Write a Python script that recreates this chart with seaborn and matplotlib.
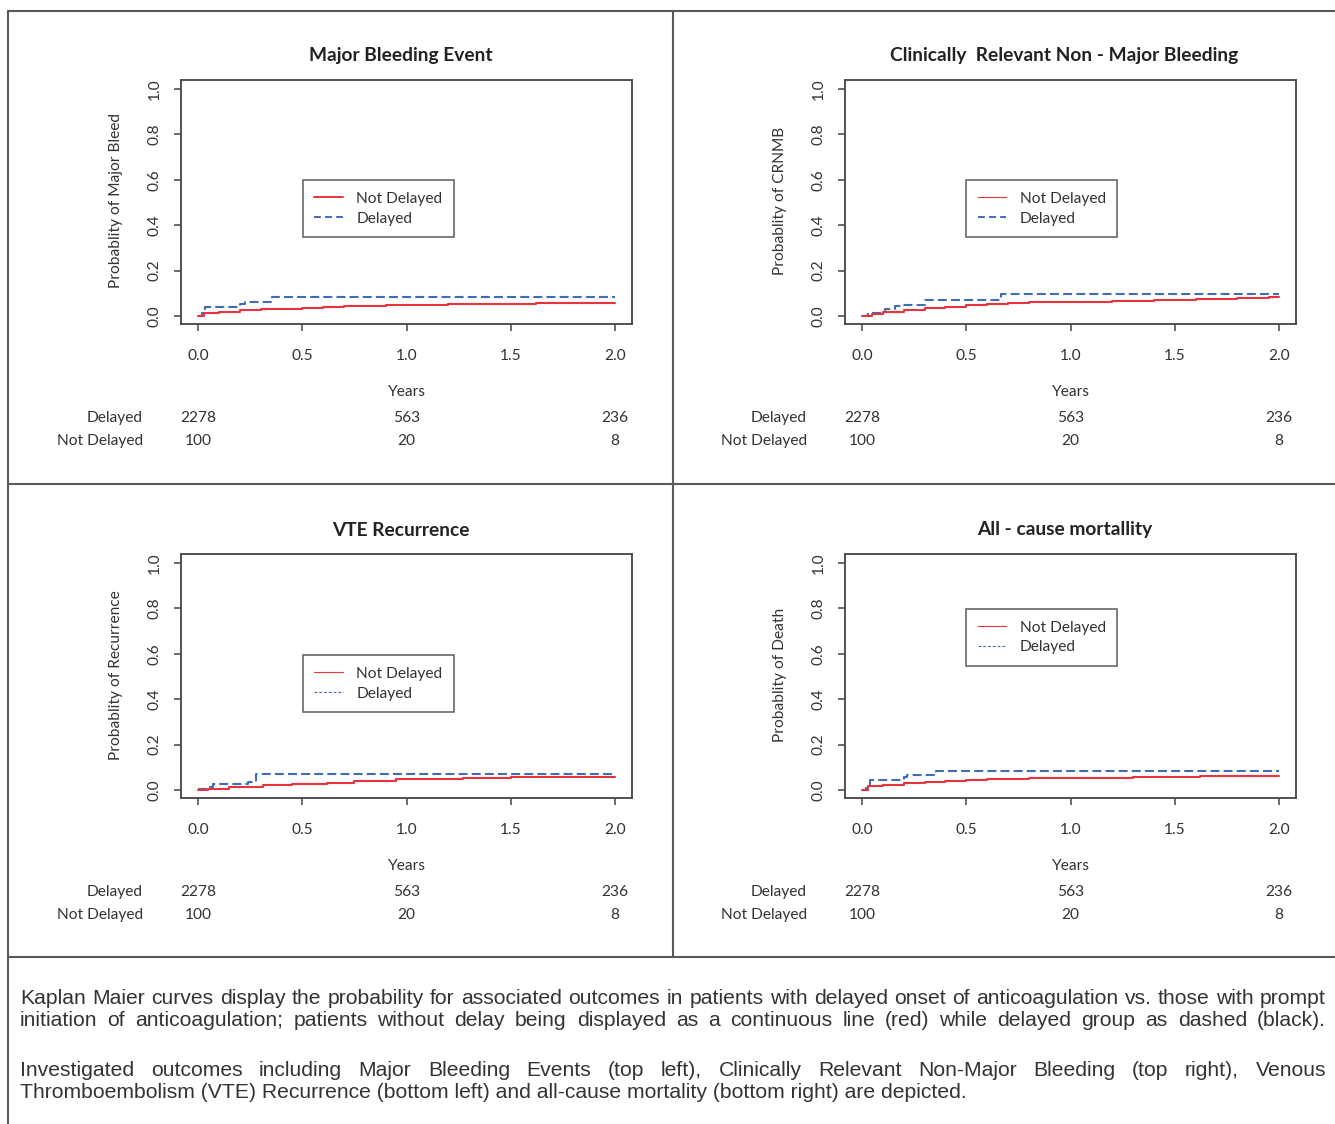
import numpy as np
import pandas as pd
import matplotlib
matplotlib.use("Agg")
import matplotlib.pyplot as plt
import matplotlib.transforms as mtransforms
from matplotlib.lines import Line2D
import seaborn as sns

# ---------------- data ----------------
titles = ["Major Bleeding Event", "Clinically  Relevant Non - Major Bleeding",
          "VTE Recurrence", "All - cause mortallity"]
ylabels = ["Probablity of Major Bleed", "Probablity of CRNMB",
           "Probablity of Recurrence", "Probablity of Death"]
groups = ["Not Delayed", "Delayed"]

# Major bleeding
mb_delayed_t = [0, 0.02, 0.034, 0.20, 0.225, 0.353, 2.0]
mb_delayed_p = [0, 0.012, 0.041, 0.053, 0.063, 0.082, 0.082]
mb_notdel_t = [0, 0.03, 0.1, 0.2, 0.3, 0.4, 0.5, 0.6, 0.7, 0.8, 0.9, 1.0, 1.2, 1.4, 1.62, 2.0]
mb_notdel_p = [0, 0.012, 0.02, 0.026, 0.029, 0.032, 0.036, 0.04, 0.043, 0.046, 0.048, 0.05, 0.051, 0.052, 0.056, 0.056]

# CRNMB
cr_delayed_t = [0, 0.03, 0.11, 0.158, 0.197, 0.30, 0.667, 2.0]
cr_delayed_p = [0, 0.015, 0.03, 0.044, 0.05, 0.07, 0.097, 0.097]
cr_notdel_t = [0, 0.05, 0.1, 0.2, 0.3, 0.4, 0.5, 0.6, 0.7, 0.8, 1.0, 1.2, 1.4, 1.6, 1.8, 1.95, 2.0]
cr_notdel_p = [0, 0.01, 0.018, 0.026, 0.035, 0.042, 0.05, 0.055, 0.059, 0.06, 0.062, 0.066, 0.071, 0.076, 0.079, 0.085, 0.085]

# VTE recurrence
vte_delayed_t = [0, 0.04, 0.074, 0.24, 0.28, 2.0]
vte_delayed_p = [0.003, 0.015, 0.025, 0.034, 0.069, 0.069]
vte_notdel_t = [0, 0.05, 0.15, 0.31, 0.45, 0.62, 0.75, 0.95, 1.1, 1.27, 1.5, 1.67, 2.0]
vte_notdel_p = [0, 0.006, 0.015, 0.024, 0.028, 0.033, 0.041, 0.047, 0.05, 0.054, 0.056, 0.058, 0.058]

# Mortality
mo_delayed_t = [0, 0.02, 0.038, 0.20, 0.214, 0.353, 2.0]
mo_delayed_p = [0, 0.01, 0.044, 0.056, 0.065, 0.085, 0.085]
mo_notdel_t = [0, 0.03, 0.1, 0.2, 0.3, 0.4, 0.5, 0.6, 0.7, 0.8, 1.0, 1.3, 1.62, 2.0]
mo_notdel_p = [0, 0.018, 0.024, 0.03, 0.035, 0.04, 0.044, 0.047, 0.05, 0.052, 0.055, 0.056, 0.062, 0.062]

risk_times = [0.0, 1.0, 2.0]
risk_delayed = ["2278", "563", "236"]
risk_notdelayed = ["100", "20", "8"]

x_ticks = [0.0, 0.5, 1.0, 1.5, 2.0]
y_ticks = [0.0, 0.2, 0.4, 0.6, 0.8, 1.0]

caption_p1 = ["Kaplan Maier curves display the probability for associated outcomes in patients with delayed onset of anticoagulation vs. those with prompt",
              "initiation of anticoagulation; patients without delay being displayed as a continuous line (red) while delayed group as dashed (black)."]
caption_p2 = ["Investigated outcomes including Major Bleeding Events (top left), Clinically Relevant Non-Major Bleeding (top right), Venous",
              "Thromboembolism (VTE) Recurrence (bottom left) and all-cause mortality (bottom right) are depicted."]

# ---------------- style ----------------
sns.set_theme(style="white")
plt.rcParams["font.family"] = ["Lato", "DejaVu Sans"]
plt.rcParams["axes.unicode_minus"] = False

W, H = 1335, 1124
fig = plt.figure(figsize=(W / 100, H / 100), dpi=100)
fig.patch.set_facecolor("white")

RED = "#E8323C"
BLUE = "#3E6DB5"
TXT = "#333333"
AXC = "#444444"


def fx(x):
    return x / W


def fy(y):
    return 1 - y / H


panels = [
    (mb_notdel_t, mb_notdel_p, mb_delayed_t, mb_delayed_p),
    (cr_notdel_t, cr_notdel_p, cr_delayed_t, cr_delayed_p),
    (vte_notdel_t, vte_notdel_p, vte_delayed_t, vte_delayed_p),
    (mo_notdel_t, mo_notdel_p, mo_delayed_t, mo_delayed_p),
]
# axes box pixel positions (left, top)
origins = [(181, 80), (845, 80), (181, 554), (845, 554)]
AW, AH = 451, 244
legend_pos = [(0.27, 0.59), (0.268, 0.59), (0.27, 0.586), (0.268, 0.775)]
legend_styles = [
    dict(r_lw=1.4, b_lw=1.4, b_dash=(3.5, 2.2)),
    dict(r_lw=0.8, b_lw=1.4, b_dash=(3.5, 2.2)),
    dict(r_lw=0.8, b_lw=0.8, b_dash=(2.5, 1.8)),
    dict(r_lw=0.8, b_lw=0.8, b_dash=(2.5, 1.8)),
]

FS = 11.2

for i, (nt, npv, dt, dp) in enumerate(panels):
    L, T = origins[i]
    ax = fig.add_axes([fx(L), fy(T + AH), AW / W, AH / H])
    df = pd.DataFrame({
        "Years": list(dt) + list(nt),
        "Prob": list(dp) + list(npv),
        "Group": ["Delayed"] * len(dt) + ["Not Delayed"] * len(nt),
    })
    sns.lineplot(data=df, x="Years", y="Prob", hue="Group", style="Group",
                 hue_order=["Delayed", "Not Delayed"],
                 palette={"Not Delayed": RED, "Delayed": BLUE},
                 dashes={"Not Delayed": "", "Delayed": (4.3, 2.0)},
                 estimator=None, sort=False, drawstyle="steps-post",
                 linewidth=1.5, legend=False, ax=ax)
    ax.set_xlim(-0.0815, 2.0815)
    ax.set_ylim(-0.035, 1.04)
    ax.set_xticks(x_ticks)
    ax.set_yticks(y_ticks)
    ax.set_xticklabels([f"{v:.1f}" for v in x_ticks])
    ax.set_yticklabels([f"{v:.1f}" for v in y_ticks])
    ax.set_xlabel("")
    ax.set_ylabel("")
    for s in ax.spines.values():
        s.set_color(AXC)
        s.set_linewidth(1.3)
    ax.tick_params(axis="both", direction="out", length=5, width=1.1, color=AXC,
                   labelsize=FS, labelcolor=TXT, bottom=True, left=True)
    ax.tick_params(axis="x", pad=13)
    ax.tick_params(axis="y", pad=9)
    for lab in ax.get_yticklabels():
        lab.set_rotation(90)
        lab.set_va("center")
        lab.set_ha("right")
    ax.set_facecolor("white")

    cx = L + AW / 2
    fig.text(fx(cx - 6), fy(T - 24), titles[i], ha="center", va="center",
             fontsize=13.8, fontweight="bold", color="#222222")
    fig.text(fx(L - 65), fy(T + AH / 2 - 1), ylabels[i], rotation=90,
             ha="center", va="center", fontsize=FS, color=TXT)

    fig.text(fx(cx), fy(T + 312), "Years", ha="center", va="center",
             fontsize=FS, color=TXT)
    # risk table
    fig.text(fx(L - 38), fy(T + 338), "Delayed", ha="right", va="center",
             fontsize=FS, color=TXT)
    fig.text(fx(L - 38), fy(T + 361), "Not Delayed", ha="right", va="center",
             fontsize=FS, color=TXT)
    tr = mtransforms.blended_transform_factory(ax.transData, fig.transFigure)
    for t, a, b in zip(risk_times, risk_delayed, risk_notdelayed):
        ax.text(t, fy(T + 338), a, transform=tr, ha="center", va="center",
                fontsize=FS, color=TXT, clip_on=False)
        ax.text(t, fy(T + 361), b, transform=tr, ha="center", va="center",
                fontsize=FS, color=TXT, clip_on=False)

    st = legend_styles[i]
    handles = [Line2D([], [], color=RED, lw=st["r_lw"]),
               Line2D([], [], color=BLUE, lw=st["b_lw"], dashes=st["b_dash"])]
    leg = ax.legend(handles, groups, loc="upper left",
                    bbox_to_anchor=legend_pos[i], fontsize=FS,
                    frameon=True, fancybox=False, edgecolor="#333333",
                    handlelength=1.85, handletextpad=0.85, borderpad=0.75,
                    labelspacing=0.38, borderaxespad=0)
    leg.get_frame().set_linewidth(1.1)
    for tx in leg.get_texts():
        tx.set_color(TXT)

# ---------------- frame lines ----------------
FC = "#5a5a5a"
def fline(x0, y0, x1, y1):
    fig.add_artist(Line2D([fx(x0), fx(x1)], [fy(y0), fy(y1)], color=FC, lw=1.5))

fline(8, 11, W, 11)
fline(8, 11, 8, H)
fline(673, 11, 673, 957)
fline(8, 484, W, 484)
fline(8, 957, W, 957)

# ---------------- caption (justified) ----------------
CAP_FS = 15.2
CAP_FAM = ["Liberation Sans", "DejaVu Sans"]
renderer = fig.canvas.get_renderer()


def word_widths(words):
    ws = []
    for w in words:
        t = fig.text(0, 0, w, fontsize=CAP_FS, family=CAP_FAM)
        ws.append(t.get_window_extent(renderer).width)
        t.remove()
    return ws


def draw_line(line, y, x0=20, x1=1326, justify=True):
    if not justify:
        fig.text(fx(x0), fy(y), line, ha="left", va="center", fontsize=CAP_FS,
                 family=CAP_FAM, color=TXT)
        return
    words = line.split(" ")
    ws = word_widths(words)
    gap = (x1 - x0 - sum(ws)) / (len(words) - 1)
    x = x0
    for w, wd in zip(words, ws):
        fig.text(fx(x), fy(y), w, ha="left", va="center", fontsize=CAP_FS,
                 family=CAP_FAM, color=TXT)
        x += wd + gap


draw_line(caption_p1[0], 998)
draw_line(caption_p1[1], 1021)
draw_line(caption_p2[0], 1070)
draw_line(caption_p2[1], 1093, justify=False)

fig.savefig("out.png", dpi=100, facecolor="white")
